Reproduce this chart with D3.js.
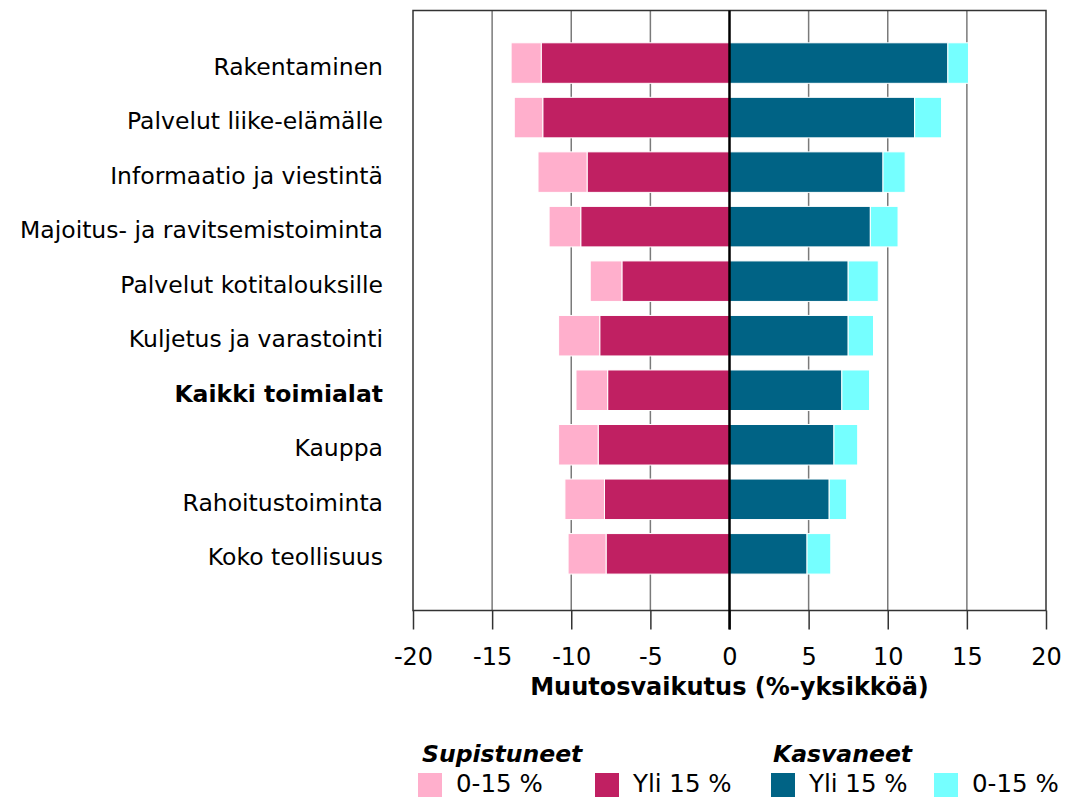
<!DOCTYPE html>
<html>
<head>
<meta charset="utf-8">
<script src="https://cdn.jsdelivr.net/npm/d3@7"></script>
<style>
  body { margin: 0; background: #fff; }
  text { font-family: "DejaVu Sans", Verdana, sans-serif; fill: #000; }
</style>
</head>
<body>
<svg width="1065" height="799"></svg>
<script>
// industries, top to bottom
var categories = [
  "Rakentaminen",
  "Palvelut liike-elämälle",
  "Informaatio ja viestintä",
  "Majoitus- ja ravitsemistoiminta",
  "Palvelut kotitalouksille",
  "Kuljetus ja varastointi",
  "Kaikki toimialat",
  "Kauppa",
  "Rahoitustoiminta",
  "Koko teollisuus"
];
// shrinking firms (negative), split by size of change
var shrinkOver15 = [-11.9, -11.8, -9.0, -9.4, -6.8, -8.2, -7.7, -8.3, -7.9, -7.8];
var shrink0to15  = [-1.9, -1.8, -3.1, -2.0, -2.0, -2.6, -2.0, -2.5, -2.5, -2.4];
// growing firms
var growOver15 = [13.8, 11.7, 9.7, 8.9, 7.5, 7.5, 7.1, 6.6, 6.3, 4.9];
var grow0to15  = [1.3, 1.7, 1.4, 1.75, 1.9, 1.6, 1.75, 1.5, 1.1, 1.5];

var tickValues = [-20, -15, -10, -5, 0, 5, 10, 15, 20];
var gridValues = [-15, -10, -5, 5, 10, 15];

var colors = {
  shrinkSmall: "#ffafcc",
  shrinkBig: "#c02062",
  growBig: "#006385",
  growSmall: "#75ffff"
};

var svg = d3.select("svg"),
    plotLeft = 413, plotRight = 1046, plotTop = 10.5, plotBottom = 610.5;

var x = d3.scaleLinear().domain([-20, 20]).range([plotLeft, plotRight]);
var y = d3.scaleBand()
    .domain(categories)
    .range([plotTop, plotBottom])
    .paddingInner(0.257)
    .paddingOuter(0.63)
    .align(0.47);

// gridlines (behind bars)
svg.append("g").selectAll("line")
  .data(gridValues)
  .enter().append("line")
    .attr("x1", function(d) { return x(d); })
    .attr("x2", function(d) { return x(d); })
    .attr("y1", plotTop)
    .attr("y2", plotBottom)
    .attr("stroke", "#7a7a7a")
    .attr("stroke-width", 1.5);

// one row of segments per category
var segments = [];
categories.forEach(function(c, i) {
  segments.push({cat: c, x0: shrinkOver15[i], x1: 0, color: colors.shrinkBig});
  segments.push({cat: c, x0: shrinkOver15[i] + shrink0to15[i], x1: shrinkOver15[i], color: colors.shrinkSmall});
  segments.push({cat: c, x0: 0, x1: growOver15[i], color: colors.growBig});
  segments.push({cat: c, x0: growOver15[i], x1: growOver15[i] + grow0to15[i], color: colors.growSmall});
});

svg.append("g").selectAll("rect")
  .data(segments)
  .enter().append("rect")
    .attr("x", function(d) { return x(d.x0); })
    .attr("width", function(d) { return x(d.x1) - x(d.x0); })
    .attr("y", function(d) { return y(d.cat); })
    .attr("height", y.bandwidth())
    .attr("fill", function(d) { return d.color; })
    .attr("stroke", "#fff")
    .attr("stroke-width", 1);

// frame
svg.append("rect")
    .attr("x", plotLeft).attr("y", plotTop)
    .attr("width", plotRight - plotLeft).attr("height", plotBottom - plotTop)
    .attr("fill", "none")
    .attr("stroke", "#333")
    .attr("stroke-width", 1.5);

// x axis
var xAxis = svg.append("g")
    .attr("transform", "translate(0," + plotBottom + ")")
    .call(d3.axisBottom(x).tickValues(tickValues).tickSize(19).tickFormat(d3.format("d")));
xAxis.select(".domain").remove();
xAxis.selectAll(".tick line").attr("stroke", "#333").attr("stroke-width", 1.5);
xAxis.selectAll(".tick text")
    .attr("y", 54)
    .attr("dy", null)
    .style("font-family", "DejaVu Sans, Verdana, sans-serif")
    .style("font-size", "24px")
    .text(function(d) { return d < 0 ? "-" + Math.abs(d) : d; });

// zero line
svg.append("line")
    .attr("x1", x(0)).attr("x2", x(0))
    .attr("y1", plotTop).attr("y2", plotBottom + 19)
    .attr("stroke", "#000")
    .attr("stroke-width", 2.5);

// category labels
svg.append("g").selectAll("text")
  .data(categories)
  .enter().append("text")
    .attr("x", 383)
    .attr("y", function(d) { return y(d) + y.bandwidth() / 2 + 11.5; })
    .attr("text-anchor", "end")
    .style("font-size", "23.5px")
    .style("font-weight", function(d) { return d === "Kaikki toimialat" ? "bold" : "normal"; })
    .text(function(d) { return d; });

svg.append("text")
    .attr("x", x(0))
    .attr("y", 695)
    .attr("text-anchor", "middle")
    .style("font-size", "24px")
    .style("font-weight", "bold")
    .text("Muutosvaikutus (%-yksikköä)");

// legend
var legendGroups = [
  {title: "Supistuneet", x: 422, items: [
    {label: "0-15 %", color: colors.shrinkSmall, x: 418},
    {label: "Yli 15 %", color: colors.shrinkBig, x: 595}]},
  {title: "Kasvaneet", x: 773, items: [
    {label: "Yli 15 %", color: colors.growBig, x: 771},
    {label: "0-15 %", color: colors.growSmall, x: 934}]}
];

legendGroups.forEach(function(g) {
  svg.append("text")
      .attr("x", g.x)
      .attr("y", 762)
      .style("font-size", "23.5px")
      .style("font-weight", "bold")
      .style("font-style", "italic")
      .text(g.title);
  g.items.forEach(function(it) {
    svg.append("rect")
        .attr("x", it.x).attr("y", 773)
        .attr("width", 24).attr("height", 24)
        .attr("fill", it.color);
    svg.append("text")
        .attr("x", it.x + 38)
        .attr("y", 792)
        .style("font-size", "24.5px")
        .text(it.label);
  });
});
</script>
</body>
</html>
